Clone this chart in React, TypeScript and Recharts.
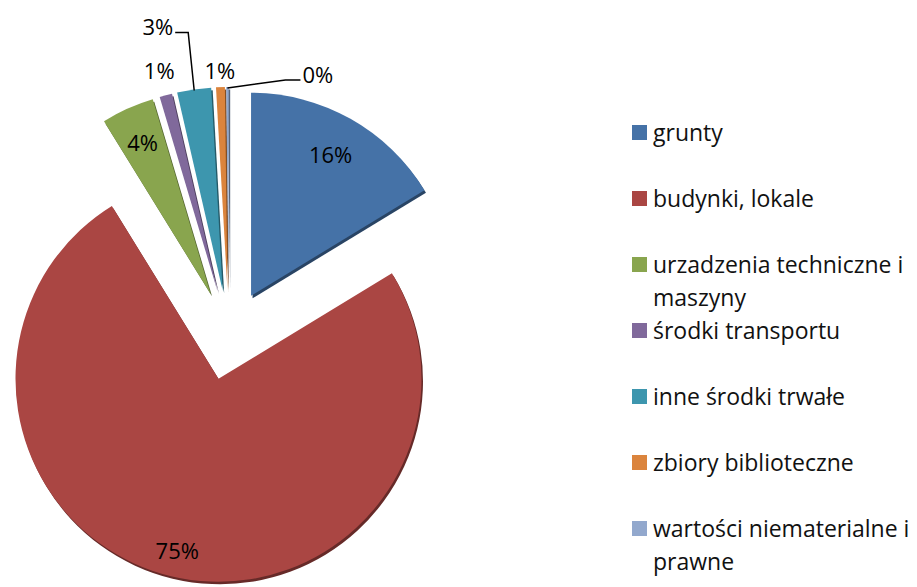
import { PieChart, Pie, Cell, Legend, Sector } from 'recharts'

const CATEGORIES = [
  'grunty',
  'budynki, lokale',
  'urzadzenia techniczne i maszyny',
  'środki transportu',
  'inne środki trwałe',
  'zbiory biblioteczne',
  'wartości niematerialne i prawne',
]
const SHARES = [16.3, 74.9, 4.2, 1.0, 2.7, 0.7, 0.2]
const COLORS = ['#4572A7', '#AA4643', '#89A54E', '#80699B', '#3D96AE', '#DB843D', '#92A8CD']

// how each percent label is placed (Excel "best fit" look)
const LABEL_PLACEMENT: any[] = [
  { kind: 'inside', r: 0.8 },
  { kind: 'inside', r: 0.87 },
  { kind: 'inside', r: 0.82 },
  { kind: 'outside', gap: 26 },
  { kind: 'leader', elbow: [-6, -58], run: -13 },
  { kind: 'outside', gap: 17 },
  { kind: 'leader', elbow: [58, -8], run: 15 },
]

const EXPLODE = 45
const RAD = Math.PI / 180
const FONT = '"Open Sans", sans-serif'

const data = CATEGORIES.map((name, i) => ({ name, value: SHARES[i] }))

function darker(hex: string, k = 0.6) {
  const n = parseInt(hex.slice(1), 16)
  const r = Math.round(((n >> 16) & 255) * k)
  const g = Math.round(((n >> 8) & 255) * k)
  const b = Math.round((n & 255) * k)
  return `rgb(${r},${g},${b})`
}

function ExplodedSector(props: any) {
  const { cx, cy, midAngle, fill } = props
  const dx = EXPLODE * Math.cos(-midAngle * RAD)
  const dy = EXPLODE * Math.sin(-midAngle * RAD)
  return (
    <g>
      <Sector {...props} cx={cx + dx + 1.5} cy={cy + dy + 2.5} fill={darker(fill)} stroke="none" />
      <Sector {...props} cx={cx + dx} cy={cy + dy} stroke="none" />
    </g>
  )
}

function renderLabel(props: any) {
  const { cx, cy, midAngle, outerRadius, percent, index } = props
  const cos = Math.cos(-midAngle * RAD)
  const sin = Math.sin(-midAngle * RAD)
  const text = `${Math.round(percent * 100)}%`
  const p = LABEL_PLACEMENT[index]
  const style = { fontFamily: FONT, fontSize: 22, fill: '#000' }
  if (p.kind === 'inside' || p.kind === 'outside') {
    const r = p.kind === 'inside' ? EXPLODE + outerRadius * p.r : EXPLODE + outerRadius + p.gap
    return (
      <text x={cx + r * cos} y={cy + r * sin} textAnchor="middle" dominantBaseline="central" style={style}>
        {text}
      </text>
    )
  }
  const r0 = EXPLODE + outerRadius - 1
  const x0 = cx + r0 * cos
  const y0 = cy + r0 * sin
  const x1 = x0 + p.elbow[0]
  const y1 = y0 + p.elbow[1]
  const x2 = x1 + p.run
  return (
    <g>
      <polyline points={`${x0},${y0} ${x1},${y1} ${x2},${y1}`} fill="none" stroke="#000" strokeWidth={1.5} />
      <text
        x={x2 + (p.run < 0 ? -2 : 2)}
        y={y1 - 6}
        textAnchor={p.run < 0 ? 'end' : 'start'}
        dominantBaseline="central"
        style={style}
      >
        {text}
      </text>
    </g>
  )
}

function LegendList() {
  return (
    <div style={{ fontFamily: FONT, fontSize: 23, lineHeight: '33px', color: '#111' }}>
      {CATEGORIES.map((name, i) => (
        <div key={name} style={{ display: 'flex', alignItems: 'flex-start', height: 66 }}>
          <span style={{ width: 15, height: 15, background: COLORS[i], marginTop: 9, marginRight: 6, flex: 'none' }} />
          <span style={{ width: 262 }}>{name}</span>
        </div>
      ))}
    </div>
  )
}

export default function App() {
  return (
    <div style={{ position: 'absolute', left: 0, top: 0, width: 917, height: 587, background: '#fff' }}>
      <PieChart width={917} height={587} margin={{ top: 0, right: 0, bottom: 0, left: 0 }}>
        <Pie
          data={data}
          dataKey="value"
          nameKey="name"
          cx={229}
          cy={335}
          outerRadius={203}
          startAngle={90}
          endAngle={-270}
          stroke="none"
          shape={ExplodedSector}
          label={renderLabel}
          labelLine={false}
          isAnimationActive={false}
        >
          {data.map((d, i) => (
            <Cell key={d.name} fill={COLORS[i]} />
          ))}
        </Pie>
        <Legend
          layout="vertical"
          align="right"
          verticalAlign="top"
          content={<LegendList />}
          wrapperStyle={{ left: 632, top: 116, width: 285 }}
        />
      </PieChart>
    </div>
  )
}
